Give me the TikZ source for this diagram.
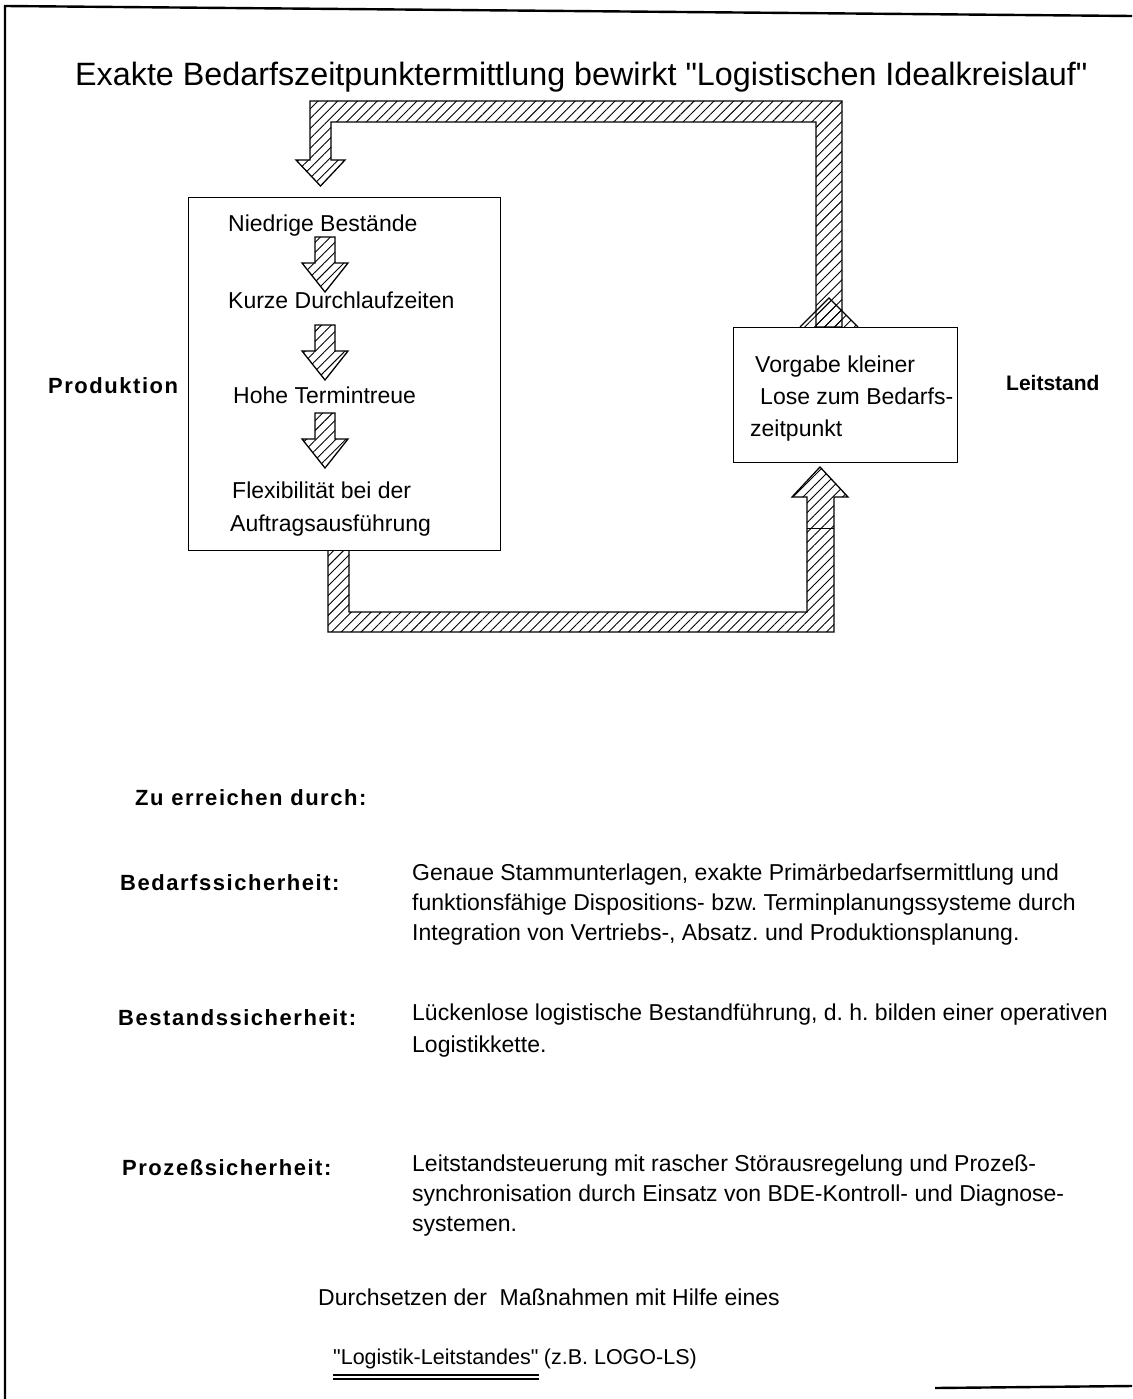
\documentclass[tikz,border=0pt]{standalone}
\usepackage{fontspec}
\setmainfont{Liberation Sans}
\newfontfamily\lblfont[LetterSpace=7]{Liberation Sans}
\usetikzlibrary{patterns.meta}
\tikzset{
  hatch/.style={draw=black, line width=1.3pt, line join=miter,
    pattern={Lines[angle=45,distance=7pt,line width=0.9pt]}},
  boxst/.style={draw=black, fill=white, line width=1.3pt, inner sep=0pt},
  bodytxt/.style={font=\fontsize{23}{28}\selectfont\frenchspacing, inner sep=0pt, anchor=base west},
  smalltxt/.style={font=\fontsize{21.5}{26}\selectfont\frenchspacing, inner sep=0pt, anchor=base west},
  titletxt/.style={font=\fontsize{32.3}{36}\selectfont, inner sep=0pt, anchor=base west},
  lbltxt/.style={font=\lblfont\bfseries\fontsize{22}{26}\selectfont, inner sep=0pt, anchor=base west},
  lslbltxt/.style={font=\bfseries\fontsize{21}{26}\selectfont, inner sep=0pt, anchor=base west},
  framest/.style={draw=black, line width=2.4pt},
}
\begin{document}
\begin{tikzpicture}[x=1pt,y=-1pt]
\useasboundingbox (0,0) rectangle (1132,1399);
% frame
\draw[framest] (5,1399) -- (5,6) -- (1132,16);
\draw[framest] (935,1388) -- (1132,1386);

% title
\node[titletxt] (title) at (75,86) {Exakte Bedarfszeitpunktermittlung bewirkt \textquotedbl Logistischen Idealkreislauf\textquotedbl};

% hatched loop, upper part
\filldraw[hatch] (310,101) -- (842,101) -- (842,327) -- (816,327) -- (816,122) -- (331,122)
  -- (331,160) -- (345,160) -- (320.5,186) -- (296,160) -- (310,160) -- cycle;
\filldraw[hatch] (800,327) -- (829,298) -- (858,327);
% hatched loop, lower part
\filldraw[hatch] (328,549) -- (328,632) -- (834,632) -- (834,497) -- (848,497) -- (820,467)
  -- (792,497) -- (807,497) -- (807,612) -- (349,612) -- (349,549) -- cycle;
\draw[line width=1pt] (807,528) -- (834,528);

% boxes
\node[boxst, minimum width=312pt, minimum height=353pt, anchor=north west] (prodbox) at (188,197) {};
\node[boxst, minimum width=224pt, minimum height=135pt, anchor=north west] (lsbox) at (733,327) {};

% small arrows inside production box
\foreach \t in {237,325,413}{
  \filldraw[hatch] (315,\t) -- (335,\t) -- (335,\t+26) -- (348,\t+26) -- (325,\t+55)
    -- (302,\t+26) -- (315,\t+26) -- cycle;
}

% production box texts
\node[bodytxt] (t1) at (228,231) {Niedrige Bestände};
\node[bodytxt] (t2) at (228,308) {Kurze Durchlaufzeiten};
\node[bodytxt] (t3) at (233,403) {Hohe Termintreue};
\node[bodytxt] (t4) at (232,498) {Flexibilität bei der};
\node[bodytxt] (t5) at (230,531) {Auftragsausführung};

% leitstand box texts
\node[bodytxt] (v1) at (755,372) {Vorgabe kleiner};
\node[bodytxt] (v2) at (760,404) {Lose zum Bedarfs-};
\node[bodytxt] (v3) at (750,436) {zeitpunkt};

% side labels
\node[lbltxt] (prodlbl) at (48,393) {Produktion};
\node[lslbltxt] (lslbl) at (1006,390) {Leitstand};

% lower section
\node[lbltxt] (zu) at (135,805) {Zu erreichen durch:};

\node[lbltxt] (bed) at (120,890) {Bedarfssicherheit:};
\node[bodytxt] (bed1) at (412,880) {Genaue Stammunterlagen, exakte Primärbedarfsermittlung und};
\node[bodytxt] (bed2) at (412,910) {funktionsfähige Dispositions- bzw. Terminplanungssysteme durch};
\node[bodytxt] (bed3) at (412,940) {Integration von Vertriebs-, Absatz. und Produktionsplanung.};

\node[lbltxt] (best) at (118,1025) {Bestandssicherheit:};
\node[bodytxt] (best1) at (412,1020) {Lückenlose logistische Bestandführung, d. h. bilden einer operativen};
\node[bodytxt] (best2) at (412,1052) {Logistikkette.};

\node[lbltxt] (proz) at (122,1175) {Prozeßsicherheit:};
\node[bodytxt] (proz1) at (412,1171) {Leitstandsteuerung mit rascher Störausregelung und Prozeß-};
\node[bodytxt] (proz2) at (412,1201) {synchronisation durch Einsatz von BDE-Kontroll- und Diagnose-};
\node[bodytxt] (proz3) at (412,1231) {systemen.};

\node[bodytxt] (durch) at (318,1305) {Durchsetzen der\ \ Maßnahmen mit Hilfe eines};
\node[smalltxt] (logq) at (333,1364) {\textquotedbl Logistik-Leitstandes\textquotedbl};
\node[smalltxt] (logn) at ([xshift=5pt]logq.base east) {(z.B. LOGO-LS)};
\draw[line width=1.2pt] ([yshift=-11pt]logq.base west) -- ([yshift=-11pt]logq.base east);
\draw[line width=1.2pt] ([yshift=-15pt]logq.base west) -- ([yshift=-15pt]logq.base east);
\end{tikzpicture}
\end{document}
